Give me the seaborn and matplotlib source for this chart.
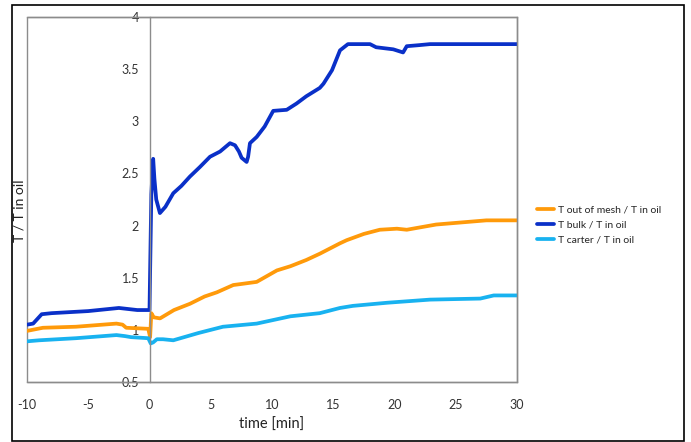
import matplotlib
matplotlib.use("Agg")
import matplotlib.pyplot as plt
import seaborn as sns
import pandas as pd
from matplotlib.patches import Rectangle
from matplotlib.lines import Line2D

# ---- data ----
bulk_x = [-10, -9.5, -8.8, -8.0, -5, -2.5, -1, 0.0, 0.15, 0.3, 0.4, 0.55, 0.85, 1.3, 1.94, 2.6, 3.3, 4.1,
          4.94, 5.76, 6.57, 6.98, 7.3, 7.52, 7.93, 8.05, 8.2, 8.75, 9.4, 10.1, 11.2, 12.0, 12.8, 13.9, 14.2,
          14.9, 15.55, 16.2, 17.0, 18.0, 18.5, 19.9, 20.7, 21.0, 22.0, 22.9, 26, 30]
bulk_y = [1.05, 1.06, 1.15, 1.16, 1.18, 1.21, 1.19, 1.19, 2.3, 2.64, 2.45, 2.25, 2.12, 2.18, 2.31, 2.38, 2.47, 2.56,
          2.66, 2.71, 2.79, 2.77, 2.71, 2.65, 2.61, 2.66, 2.79, 2.85, 2.95, 3.10, 3.11, 3.17, 3.24, 3.32, 3.36,
          3.49, 3.68, 3.74, 3.74, 3.74, 3.71, 3.69, 3.66, 3.72, 3.73, 3.74, 3.74, 3.74]

mesh_x = [-10, -8.7, -6, -2.7, -2.2, -1.9, -0.1, 0.05, 0.15, 0.35, 0.86, 2, 3.3, 4.5, 5.5, 6.84, 7.5, 8.75,
          9.5, 10.4, 11.5, 12.8, 13.9, 15.55, 16.1, 17.5, 18.8, 20.2, 21, 23.4, 27.5, 30]
mesh_y = [0.99, 1.02, 1.03, 1.06, 1.05, 1.02, 1.01, 0.93, 1.16, 1.12, 1.11, 1.19, 1.25, 1.32, 1.36, 1.43, 1.44, 1.46,
          1.51, 1.57, 1.61, 1.67, 1.73, 1.83, 1.86, 1.92, 1.96, 1.97, 1.96, 2.01, 2.05, 2.05]

carter_x = [-10, -9, -6, -2.7, -2, -1.5, -0.1, 0.1, 0.3, 0.6, 1.1, 1.94, 4, 6, 8.75, 11.5, 13.9, 15.55,
            16.6, 19.4, 22.9, 27, 28.1, 30]
carter_y = [0.89, 0.90, 0.92, 0.95, 0.94, 0.93, 0.92, 0.87, 0.88, 0.91, 0.91, 0.90, 0.97, 1.03, 1.06, 1.13, 1.16, 1.21,
            1.23, 1.26, 1.29, 1.30, 1.33, 1.33]

series_names = ["T out of mesh / T in oil", "T bulk / T in oil", "T carter / T in oil"]
series_colors = ["#FF9A0A", "#0A30C8", "#18B2F0"]
x_ticks = [-10, -5, 0, 5, 10, 15, 20, 25, 30]
y_ticks = [0.5, 1, 1.5, 2, 2.5, 3, 3.5, 4]
y_tick_labels = ["0.5", "1", "1.5", "2", "2.5", "3", "3.5", "4"]

df = pd.concat([
    pd.DataFrame({"time": mesh_x, "ratio": mesh_y, "series": series_names[0]}),
    pd.DataFrame({"time": bulk_x, "ratio": bulk_y, "series": series_names[1]}),
    pd.DataFrame({"time": carter_x, "ratio": carter_y, "series": series_names[2]}),
])

sns.set_style("white")
plt.rcParams["font.family"] = ["Lato", "DejaVu Sans"]

fig = plt.figure(figsize=(6.91, 4.42), dpi=100)
ax = fig.add_axes([27 / 691, 1 - 382 / 442, (517 - 27) / 691, (382 - 17) / 442])

sns.lineplot(data=df, x="time", y="ratio", hue="series", hue_order=series_names,
             palette=series_colors, linewidth=2.7, sort=False, estimator=None, ax=ax, legend=False,
             solid_joinstyle="round", solid_capstyle="round")

ax.set_xlim(-10, 30)
ax.set_ylim(0.5, 4)
ax.set_xticks(x_ticks)
ax.set_xticklabels([str(t) for t in x_ticks])
ax.set_yticks(y_ticks)
ax.set_yticklabels(y_tick_labels)

gray = "#8c8c8c"
for s in ["top", "right", "bottom", "left"]:
    ax.spines[s].set_color(gray)
    ax.spines[s].set_linewidth(1.0)
ax.spines["left"].set_position(("data", 0))
ax.add_patch(Rectangle((0, 0), 1, 1, transform=ax.transAxes, fill=False,
                       edgecolor=gray, linewidth=1.0, clip_on=False, zorder=0))
ax.tick_params(axis="both", direction="out", length=4, width=0.8, color=gray,
               labelsize=9, labelcolor="#333333")
ax.tick_params(axis="x", pad=8)
ax.set_xlabel("")
ax.set_ylabel("")

fig.text(272 / 691, 1 - 425 / 442, "time [min]", ha="center", va="center",
         fontsize=10.5, color="#222222")
fig.text(20 / 691, 1 - 211 / 442, "T / T in oil", ha="center", va="center",
         rotation=90, fontsize=10, color="#222222")

handles = [Line2D([0], [0], color=c, lw=2.7) for c in series_colors]
fig.legend(handles, series_names, loc="center left", bbox_to_anchor=(528 / 691, 1 - 225 / 442),
           frameon=False, fontsize=7.5, handlelength=1.6, handletextpad=0.4, labelspacing=0.55)

fig.add_artist(Rectangle((12 / 691, 1 / 442), (684 - 12) / 691, (441 - 5) / 442,
                         transform=fig.transFigure, fill=False, edgecolor="black", linewidth=1.2))

fig.savefig("out.png", dpi=100)
